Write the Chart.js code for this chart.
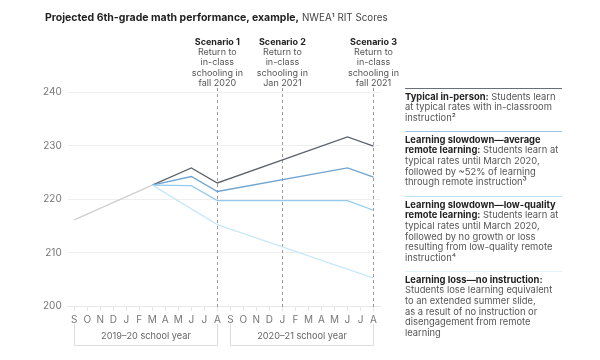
<!DOCTYPE html>
<html>
<head>
<meta charset="utf-8">
<script src="https://cdn.jsdelivr.net/npm/chart.js@4"></script>
<style>
  body { margin: 0; background: #fff; font-family: Inter, "Liberation Sans", sans-serif; }
  #wrap { position: relative; width: 600px; height: 360px; }
  #title { position: absolute; left: 45px; top: 11px; font-size: 10.5px; line-height: 14px; color: #222; white-space: nowrap; }
  #title b { font-weight: 700; }
  #title span { color: #444; font-size: 9.8px; }
  .note { position: absolute; left: 405px; width: 157px; font-size: 9.4px; line-height: 10.7px; color: #555; padding-top: 2.5px; white-space: nowrap; }
  .note b { color: #222; font-weight: 700; }
</style>
</head>
<body>
<div id="wrap">
  <canvas id="myChart" width="600" height="360"></canvas>
  <div id="title"><b>Projected 6th-grade math performance, example,</b> <span>NWEA¹ RIT Scores</span></div>
  <div class="note" style="top:88px; border-top:1.5px solid #6b7077;"><b>Typical in-person:</b> Students learn<br>at typical rates with in-classroom<br>instruction²</div>
  <div class="note" style="top:131px; border-top:1.5px solid #9cc2e2;"><b>Learning slowdown—average<br>remote learning:</b> Students learn at<br>typical rates until March 2020,<br>followed by ~52% of learning<br>through remote instruction³</div>
  <div class="note" style="top:196px; border-top:1.5px solid #bde0f4;"><b>Learning slowdown—low-quality<br>remote learning:</b> Students learn at<br>typical rates until March 2020,<br>followed by no growth or loss<br>resulting from low-quality remote<br>instruction⁴</div>
  <div class="note" style="top:271px; border-top:1.5px solid #e3f3fa;"><b>Learning loss—no instruction:</b><br>Students lose learning equivalent<br>to an extended summer slide,<br>as a result of no instruction or<br>disengagement from remote<br>learning</div>
</div>
<script>
const months = ['S','O','N','D','J','F','M','A','M','J','J','A',
                'S','O','N','D','J','F','M','A','M','J','J','A'];
const yTicks = [200, 210, 220, 230, 240];

// RIT scores at the turning points of each scenario (null = no point)
const baseline      = [216.1, null, null, null, null, null, 222.6, null, null, null, null, null,
                       null, null, null, null, null, null, null, null, null, null, null, null];
const typical       = [null, null, null, null, null, null, 222.6, null, null, 225.8, null, 223.0,
                       null, null, null, null, null, null, null, null, null, 231.6, null, 229.9];
const avgRemote     = [null, null, null, null, null, null, 222.6, null, null, 224.2, null, 221.4,
                       null, null, null, null, null, null, null, null, null, 225.8, null, 224.1];
const lowQuality    = [null, null, null, null, null, null, 222.6, null, null, 222.5, null, 219.7,
                       null, null, null, null, null, null, null, null, null, 219.7, null, 217.9];
const noInstruction = [null, null, null, null, null, null, 222.6, null, null, null, null, 215.2,
                       null, null, null, null, null, null, null, null, null, null, null, 205.2];

const scenarios = [
  { idx: 11, lines: ['Scenario 1', 'Return to', 'in-class', 'schooling in', 'fall 2020'] },
  { idx: 16, lines: ['Scenario 2', 'Return to', 'in-class', 'schooling in', 'Jan 2021'] },
  { idx: 23, lines: ['Scenario 3', 'Return to', 'in-class', 'schooling in', 'fall 2021'] }
];
const schoolYears = [
  { from: 0, to: 11, label: '2019–20 school year' },
  { from: 12, to: 23, label: '2020–21 school year' }
];

const FONT = 'Inter, "Liberation Sans", sans-serif';

const extras = {
  id: 'extras',
  beforeDatasetsDraw(chart) {
    const c = chart.ctx, x = chart.scales.x, area = chart.chartArea;
    c.save();
    c.strokeStyle = '#9a9a9a';
    c.lineWidth = 1;
    c.setLineDash([3, 3]);
    scenarios.forEach(s => {
      const px = Math.round(x.getPixelForValue(s.idx)) + 0.5;
      c.beginPath();
      c.moveTo(px, area.top - 4);
      c.lineTo(px, area.bottom + 4);
      c.stroke();
    });
    c.restore();
  },
  afterDraw(chart) {
    const c = chart.ctx, x = chart.scales.x;
    c.save();
    c.textAlign = 'center';
    c.textBaseline = 'middle';
    scenarios.forEach(s => {
      const px = x.getPixelForValue(s.idx);
      s.lines.forEach((t, i) => {
        c.font = (i === 0 ? '700 ' : '') + '9px ' + FONT;
        c.fillStyle = i === 0 ? '#222' : '#555';
        c.fillText(t, px, 42 + i * 10.3);
      });
    });
    // school year brackets
    c.strokeStyle = '#dcdcdc';
    c.lineWidth = 1;
    schoolYears.forEach(y => {
      const x1 = Math.round(x.getPixelForValue(y.from)) + 0.5;
      const x2 = Math.round(x.getPixelForValue(y.to)) + 0.5;
      c.beginPath();
      c.moveTo(x1, 324);
      c.lineTo(x1, 345.5);
      c.lineTo(x2, 345.5);
      c.lineTo(x2, 324);
      c.stroke();
      c.font = '9.2px ' + FONT;
      c.fillStyle = '#666';
      c.fillText(y.label, (x1 + x2) / 2, 336);
    });
    c.restore();
  }
};

function line(data, color, width) {
  return {
    data: data,
    borderColor: color,
    borderWidth: width,
    pointRadius: 0,
    spanGaps: true,
    tension: 0,
    fill: false
  };
}

const ctx = document.getElementById('myChart');
new Chart(ctx, {
  type: 'line',
  data: {
    labels: months,
    datasets: [
      line(baseline, '#cfcfcf', 1.3),
      line(noInstruction, '#c9e8f6', 1.3),
      line(lowQuality, '#93cbef', 1.3),
      line(avgRemote, '#6fa3d0', 1.3),
      line(typical, '#5d636b', 1.3)
    ]
  },
  options: {
    responsive: false,
    animation: false,
    layout: { padding: { left: 37, right: 220, top: 92, bottom: 31 } },
    plugins: { legend: { display: false }, tooltip: { enabled: false } },
    scales: {
      x: {
        offset: true,
        border: { display: true, color: '#e6e6e6' },
        grid: { display: true, drawOnChartArea: false, color: '#e6e6e6', tickLength: 5, offset: false },
        ticks: { color: '#777', font: { family: FONT, size: 10 }, padding: 3, autoSkip: false, maxRotation: 0 }
      },
      y: {
        min: 200,
        max: 240,
        afterBuildTicks(scale) { scale.ticks = yTicks.map(v => ({ value: v })); },
        border: { display: false },
        grid: { color: '#efefef', drawTicks: false },
        ticks: { color: '#777', font: { family: FONT, size: 10 }, padding: 6 }
      }
    }
  },
  plugins: [extras]
});
</script>
</body>
</html>
